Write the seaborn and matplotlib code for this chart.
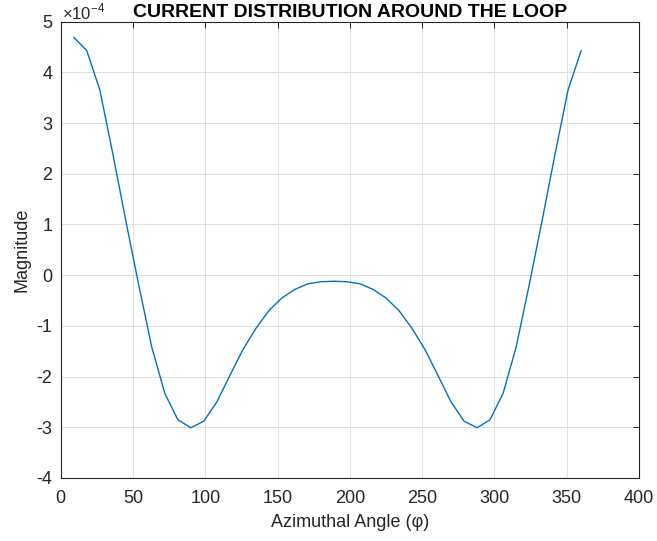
import numpy as np
import pandas as pd
import matplotlib
matplotlib.use("Agg")
import matplotlib.pyplot as plt
import seaborn as sns
from matplotlib.ticker import FuncFormatter, MultipleLocator

# Data (magnitude in units of 1e-4)
angles = [9, 18, 27, 36, 45, 54, 63, 72, 81, 90,
          99, 108, 117, 126, 135, 144, 153, 162, 171, 180,
          189, 198, 207, 216, 225, 234, 243, 252, 261, 270,
          279, 288, 297, 306, 315, 324, 333, 342, 351, 360]
magnitude_e4 = [4.69, 4.43, 3.66, 2.40, 1.08, -0.20, -1.42, -2.33, -2.85, -3.01,
                -2.88, -2.50, -1.98, -1.47, -1.05, -0.70, -0.45, -0.28, -0.17, -0.13,
                -0.12, -0.13, -0.17, -0.28, -0.45, -0.70, -1.05, -1.47, -1.98, -2.50,
                -2.88, -3.01, -2.85, -2.33, -1.42, -0.20, 1.08, 2.40, 3.66, 4.43]
x_ticks = [0, 50, 100, 150, 200, 250, 300, 350, 400]

df = pd.DataFrame({"angle": angles, "mag": np.array(magnitude_e4) * 1e-4})

sns.set_theme(style="white")
plt.rcParams["font.family"] = ["Liberation Sans", "DejaVu Sans"]
plt.rcParams["axes.unicode_minus"] = False

W, H = 657, 541
fig = plt.figure(figsize=(W / 100, H / 100), dpi=100)
ax = fig.add_axes([0.0924, 0.1165, 0.8802, 0.8435])

sns.lineplot(data=df, x="angle", y="mag", ax=ax, color="#0072BD", linewidth=1.0)

ax.set_xlim(0, 400)
ax.set_ylim(-4e-4, 5e-4)
ax.set_xticks(x_ticks)
ax.yaxis.set_major_locator(MultipleLocator(1e-4))
ax.yaxis.set_major_formatter(FuncFormatter(lambda v, p: f"{round(v * 1e4):d}"))
fig.text(62 / W, 1 - 19 / H, "\u00d710$^{\\mathdefault{-4}}$", fontsize=12,
         color="#262626", ha="left", va="baseline")

ax.grid(True, color="#dedede", linewidth=0.7)
ax.set_axisbelow(True)
for s in ax.spines.values():
    s.set_color("#262626")
    s.set_linewidth(0.8)
    s.set_visible(True)
ax.tick_params(direction="in", top=True, right=True, length=4, width=0.7,
               colors="#262626", labelsize=13)
ax.tick_params(axis="x", pad=9)
ax.tick_params(axis="y", pad=6)

ax.set_xlabel("Azimuthal Angle (\u03c6)", fontsize=13, color="#262626", labelpad=5)
ax.set_ylabel("Magnitude", fontsize=13, color="#262626", labelpad=4)
ax.set_title("CURRENT DISTRIBUTION AROUND THE LOOP", fontsize=14, fontweight="bold",
             color="black", pad=3)

fig.savefig("out.png", dpi=100)
